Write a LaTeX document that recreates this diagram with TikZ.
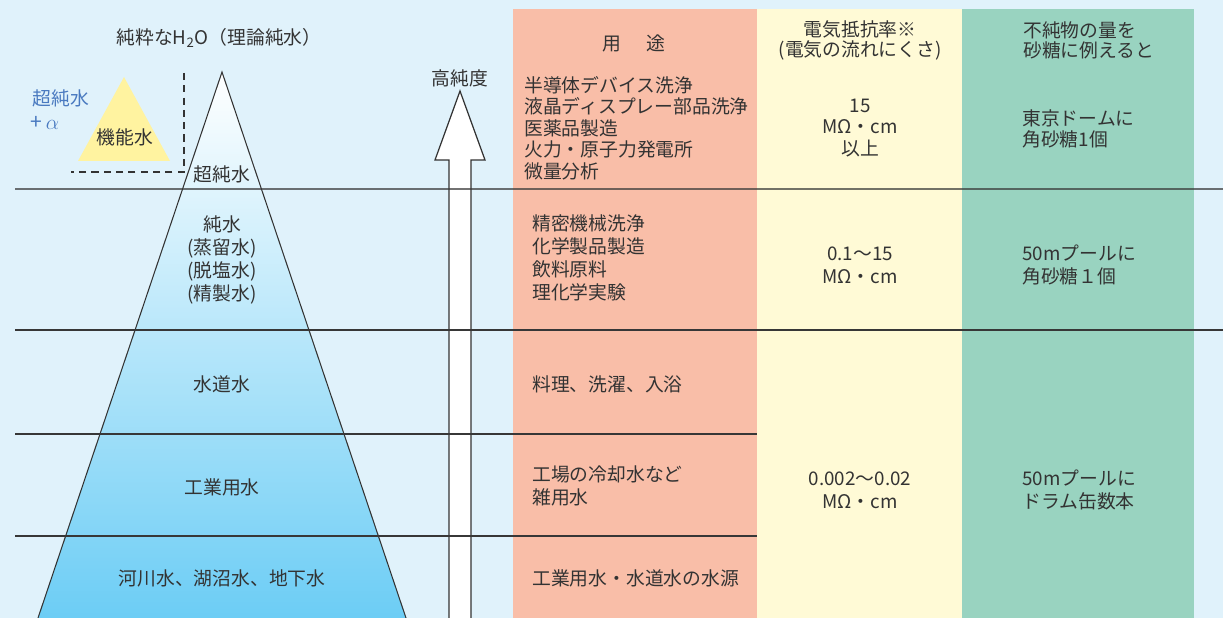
\documentclass[tikz,border=0pt]{standalone}
\usepackage{fontspec}
\setmainfont{Noto Sans CJK JP}
\usepackage{tikz}

\definecolor{bgblue}{RGB}{224,242,251}
\definecolor{salmon}{RGB}{249,190,168}
\definecolor{cream}{RGB}{255,250,214}
\definecolor{mint}{RGB}{153,211,192}
\definecolor{lemon}{RGB}{255,243,160}
\definecolor{ink}{RGB}{51,51,51}
\definecolor{rule}{RGB}{55,55,55}
\definecolor{azure}{RGB}{74,122,192}
\definecolor{deepwater}{RGB}{108,205,245}

\begin{document}
\begin{tikzpicture}[x=0.02cm,y=-0.02cm]
\tikzstyle{every node}=[inner sep=0pt,text=ink,font=\fontsize{10.7}{12.2}\selectfont];
\tikzstyle{loose}=[font=\fontsize{10.7}{13.1}\selectfont];
\tikzstyle{head}=[font=\fontsize{10.7}{11.4}\selectfont];
\useasboundingbox (0,0) rectangle (1223,618);
\fill[bgblue] (0,0) rectangle (1223,618);
\fill[salmon] (513,9) rectangle (757,618);
\fill[cream] (757,9) rectangle (962,618);
\fill[mint] (962,9) rectangle (1194,618);
\shade[top color=white,bottom color=deepwater] (222,72) -- (406,618) -- (38,618) -- cycle;
\draw[ink,line width=0.6pt] (38,618) -- (222,72) -- (406,618);
\fill[lemon] (124,77) -- (170,161) -- (78,161) -- cycle;
\draw[ink,line width=0.6pt,dash pattern=on 4pt off 3pt] (184,73) -- (184,172) -- (71,172);
\draw[fill=white,draw=ink,line width=0.7pt] (449,618) -- (449,160) -- (435,160) -- (460,91) -- (485,160) -- (471,160) -- (471,618);
\draw[rule,opacity=0.7,line width=1.1pt] (15,189) -- (1223,189);
\draw[rule,line width=0.8pt] (15,330) -- (1223,330);
\draw[rule,line width=0.8pt] (15,434) -- (757,434);
\draw[rule,line width=0.8pt] (15,536) -- (757,536);
\path (219,38) node (pure) {純粋なH\textsubscript{2}O（理論純水）};
\path (61,98) node[text=azure] (ultraplus) {超純水};
\path (45,123) node[text=azure,font=\fontsize{12}{13}\selectfont] (alpha) {+\,$\alpha$};
\path (125,137) node (func) {機能水};
\path (222,174) node (ultra) {超純水};
\path (222,260) node[loose,align=center] (purewater) {純水\\(蒸留水)\\(脱塩水)\\(精製水)};
\path (222,384) node (tap) {水道水};
\path (222,487) node (industrial) {工業用水};
\path (222,578) node (river) {河川水、湖沼水、地下水};
\path (460,78) node (purity) {高純度};
\path (634,43) node (usehead) {用\hspace{1.3em}途};
\path (524,128) node[anchor=west,align=left] (use1) {半導体デバイス洗浄\\液晶ディスプレー部品洗浄\\医薬品製造\\火力・原子力発電所\\微量分析};
\path (532,258) node[anchor=west,align=left,loose] (use2) {精密機械洗浄\\化学製品製造\\飲料原料\\理化学実験};
\path (532,384) node[anchor=west] (use3) {料理、洗濯、入浴};
\path (532,486) node[anchor=west,align=left,loose] (use4) {工場の冷却水など\\雑用水};
\path (532,578) node[anchor=west] (use5) {工業用水・水道水の水源};
\path (860,40) node[align=center,head] (reshead) {電気抵抗率※\\(電気の流れにくさ)};
\path (860,128) node[align=center] (res1) {15\\MΩ・cm\\以上};
\path (860,265) node[align=center,loose] (res2) {0.1〜15\\MΩ・cm};
\path (860,490) node[align=center,loose] (res3) {0.002〜0.02\\MΩ・cm};
\path (1023,40) node[anchor=west,align=left,head] (sugarhead) {不純物の量を\\砂糖に例えると};
\path (1022,129) node[anchor=west,align=left] (sugar1) {東京ドームに\\角砂糖1個};
\path (1022,265) node[anchor=west,align=left,loose] (sugar2) {50mプールに\\角砂糖１個};
\path (1022,490) node[anchor=west,align=left,loose] (sugar3) {50mプールに\\ドラム缶数本};
\end{tikzpicture}
\end{document}
